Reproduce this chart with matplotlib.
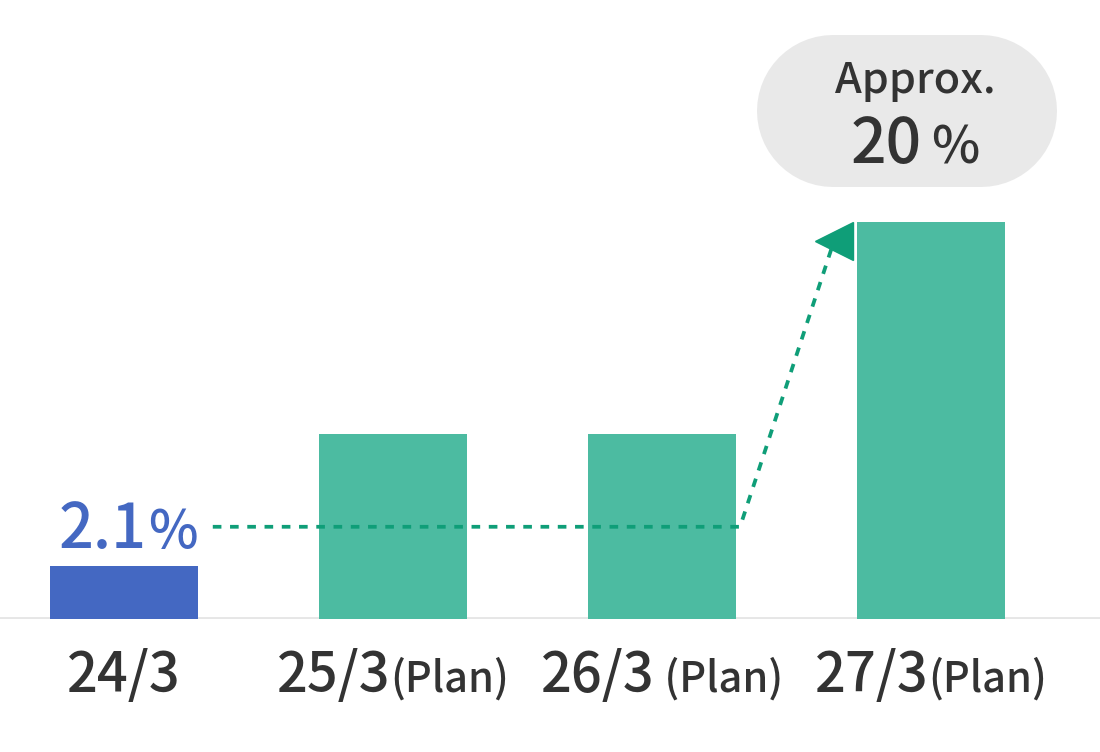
import matplotlib
matplotlib.use("Agg")
import matplotlib.pyplot as plt
import numpy as np

plt.rcParams['font.family'] = ['Noto Sans CJK JP', 'DejaVu Sans']

# data (bar heights are schematic, as in the original graphic)
years = ['24/3', '25/3', '26/3', '27/3']
suffix = ['', '(Plan)', ' (Plan)', '(Plan)']
heights = [1.0, 3.5, 3.5, 7.5]
bar_colors = ['#4468c2', '#4cbba1', '#4cbba1', '#4cbba1']
first_value = '2.1'
target_value = '20'

BLUE = '#4468c2'
DARK = '#333333'
ARROW = '#0f9e78'

DPI = 100
fig = plt.figure(figsize=(11, 7.52), dpi=DPI)
ax = fig.add_axes([0, 133 / 752, 1, 619 / 752])
x = np.arange(len(years))
ax.bar(x, heights, width=0.55, color=bar_colors, zorder=2)
ax.axhline(0, color='#e6e6e6', lw=2.8, zorder=1)
ax.set_xlim(-0.461, 3.628)
ax.set_ylim(0, 619 / 53)
ax.axis('off')

renderer = fig.canvas.get_renderer()


def put_parts(xc, y, parts, gap=0.0):
    # draw several text pieces side by side, centered on xc, sharing a baseline
    widths = []
    for s, size, color in parts:
        t = ax.text(0, 0, s, fontsize=size, fontweight='medium')
        widths.append(t.get_window_extent(renderer).width)
        t.remove()
    total = sum(widths) + gap * (len(parts) - 1)
    pos = -total / 2
    for (s, size, color), w in zip(parts, widths):
        ax.annotate(s, (xc, y), xytext=(pos * 72 / DPI, 0), textcoords='offset points',
                    ha='left', va='baseline', fontsize=size, color=color,
                    fontweight='medium', annotation_clip=False)
        pos += w + gap


# category labels under the bars
for i in range(len(years)):
    parts = [(years[i], 39, DARK)]
    if suffix[i]:
        parts.append((suffix[i], 30, DARK))
    put_parts(x[i], -73 / 53, parts)

# value label over the first bar
put_parts(x[0] + 0.015, heights[0] + 0.34, [(first_value, 44, BLUE), ('%', 38, BLUE)], gap=2)

# dashed trend arrow
lvl = heights[0] + 0.74
end = (x[3] - 0.361, heights[3] - 0.37)
ax.plot([x[0] + 0.33, x[2] + 0.29, end[0]], [lvl, lvl, end[1]], color=ARROW,
        lw=2.7, ls=(0, (2.3, 2.3)), zorder=3)
ax.plot([end[0]], [end[1]], marker='<', ms=28, color=ARROW, mec=ARROW, zorder=4)

# pill-shaped label above the last bar (thick line with round caps)
px_x, px_y = 269.0, 53.0
cx, cy = x[3] - 0.09, heights[3] + 2.08
w_px, h_px = 300, 152
half = (w_px - h_px) / 2 / px_x
ax.plot([cx - half, cx + half], [cy, cy], color='#e9e9e9', lw=h_px * 72 / DPI,
        solid_capstyle='round', zorder=2, clip_on=False)
put_parts(cx + 0.03, cy + 18 / px_y, [('Approx.', 31, DARK)])
put_parts(cx + 0.03, cy - 52 / px_y, [(target_value, 45, DARK), ('%', 37, DARK)], gap=10)

fig.savefig('out.png', dpi=DPI)
